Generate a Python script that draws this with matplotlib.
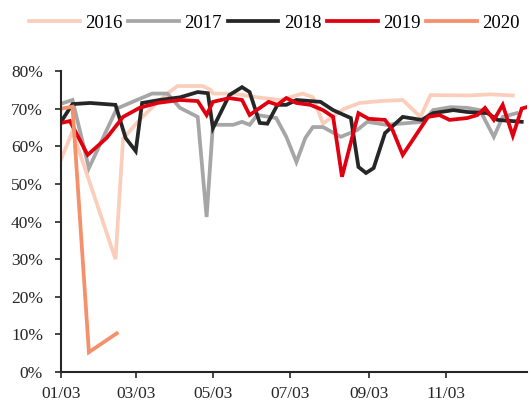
import matplotlib.pyplot as plt
import matplotlib
from matplotlib.ticker import FuncFormatter

matplotlib.rc("font", family='Liberation Serif')

# 各年份数据: 距 01/03 的天数, 数值(%)
d2016 = [0, 9, 43, 49, 62, 74, 86, 92, 112, 118, 120, 136, 155, 173, 191, 199, 207, 215, 224, 236,
         252, 270, 284, 292, 323, 339, 357]
v2016 = [56.5, 64, 30, 62, 67, 71, 74.5, 76, 76, 75, 74, 74, 73, 72.3, 74, 73, 66, 68, 70, 71.5,
         72, 72.3, 67.8, 73.6, 73.5, 73.8, 73.5]

d2017 = [0, 9, 22, 44, 60, 72, 84, 94, 108, 115, 120, 136, 143, 149, 155, 170, 178, 186, 193, 199,
         207, 221, 234, 242, 257, 286, 294, 308, 321, 331, 342, 349, 360]
v2017 = [71.3, 72.3, 54.2, 70, 72.3, 74, 74, 70.2, 67.8, 41.2, 65.7, 65.7, 66.5, 65.7, 68.3, 67.5, 62.5, 55.8, 62.2, 65.1,
         65.1, 62.5, 64.3, 66.5, 65.7, 66.5, 69.6, 70.4, 70.2, 69.6, 62.5, 67.8, 68.8]

d2018 = [0, 9, 23, 43, 51, 59, 64, 78, 94, 108, 116, 120, 133, 143, 149, 157, 163, 171, 178, 186,
         205, 215, 229, 235, 241, 247, 256, 270, 285, 294, 310, 321, 337, 345, 364]
v2018 = [66.5, 71.2, 71.5, 71, 62.2, 58.7, 71.5, 72.3, 73, 74.4, 74.1, 64.8, 73.6, 75.7, 74.4, 66.2, 66, 71, 71, 72.3,
         71.8, 69.6, 67.5, 54.5, 52.9, 54.2, 63.5, 67.8, 67, 68.8, 69.6, 69.1, 68.8, 67, 66.5]

d2019 = [0, 7, 21, 36, 49, 62, 76, 94, 108, 115, 120, 133, 143, 149, 164, 171, 178, 186, 197, 207,
         215, 222, 235, 243, 256, 262, 270, 290, 299, 307, 321, 329, 335, 342, 349, 357, 364, 369]
v2019 = [66.2, 66.7, 57.7, 62.2, 67.8, 70.2, 71.5, 72.3, 72, 68.3, 71.8, 72.8, 72.3, 68.3, 71.8, 71, 72.8, 71.5, 71, 69.6,
         67.8, 51.9, 68.8, 67.3, 67, 64.3, 57.7, 67.8, 68.3, 67, 67.5, 68.3, 70.2, 67, 71, 62.8, 70, 70.5]

d2020 = [0, 9, 22, 44]
v2020 = [70, 70.5, 5.3, 10.3]

years = ['2016', '2017', '2018', '2019', '2020']
colors = ['#FBCEBB', '#A6A6A6', '#262626', '#E0000F', '#F4906A']

tick_days = [0, 59, 120, 181, 243, 304]
tick_labels = ['01/03', '03/03', '05/03', '07/03', '09/03', '11/03']

fig = plt.figure(figsize=(5.31, 4.01), dpi=100)
ax = fig.add_axes([0.115, 0.072, 0.877, 0.751])

series = [(d2016, v2016), (d2017, v2017), (d2018, v2018), (d2019, v2019), (d2020, v2020)]
for (d, v), yr, c in zip(series, years, colors):
    ax.plot(d, v, color=c, lw=2.7, label=yr, solid_joinstyle='miter')

ax.set_xlim(0, 368)
ax.set_ylim(0, 80)
ax.set_yticks(range(0, 81, 10))
ax.yaxis.set_major_formatter(FuncFormatter(lambda y, p: '%d%%' % y))
ax.set_xticks(tick_days)
ax.set_xticklabels(tick_labels)
ax.tick_params(labelsize=12.5, colors='#262626', length=4, width=1.2)
ax.tick_params(axis='y', pad=9)
ax.tick_params(axis='x', pad=6)

for s in ['top', 'right']:
    ax.spines[s].set_visible(False)
for s in ['left', 'bottom']:
    ax.spines[s].set_color('#262626')
    ax.spines[s].set_linewidth(1.5)

fig.legend(loc='upper center', bbox_to_anchor=(0.517, 1.005), ncol=5, frameon=False,
           fontsize=13.5, handlelength=2.7, columnspacing=0.3, handletextpad=0.3)

plt.savefig('out.png', dpi=100)
